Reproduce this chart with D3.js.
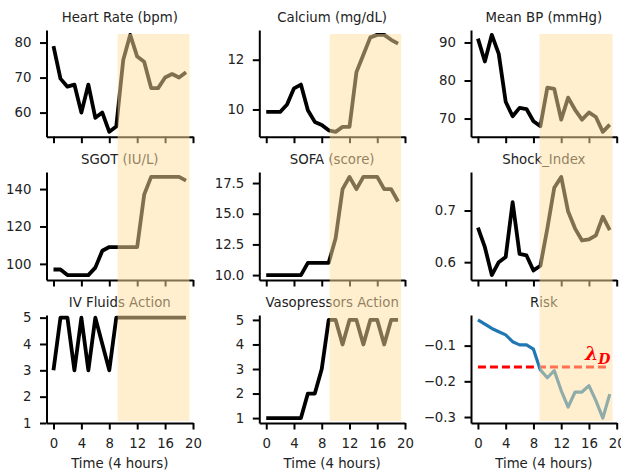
<!DOCTYPE html>
<html>
<head>
<meta charset="utf-8">
<script src="https://cdn.jsdelivr.net/npm/d3@7"></script>
<style>
  body { margin: 0; background: #fff; }
  svg text { font-family: "DejaVu Sans", sans-serif; fill: #222; }
</style>
</head>
<body>
<script>
// time steps (4 hour bins)
const time = [0, 1, 2, 3, 4, 5, 6, 7, 8, 9, 10, 11, 12, 13, 14, 15, 16, 17, 18, 19];
const xTicks = [0, 4, 8, 12, 16, 20];

const heartRate = [79, 69.7, 67.4, 68, 60, 68, 58.5, 60, 54.5, 56, 75, 82.2, 76, 74.5, 67, 67, 70, 71, 70, 71.5];
const calcium = [9.9, 9.9, 9.9, 10.2, 10.85, 11.0, 9.97, 9.5, 9.38, 9.16, 9.1, 9.3, 9.3, 11.5, 12.2, 12.9, 13.0, 13.0, 12.8, 12.65];
const meanBP = [91, 85, 92, 87, 74.4, 70.6, 72.8, 72.5, 69.3, 68, 78.1, 77.8, 69.7, 75.5, 72.3, 69.7, 71.6, 70.4, 66.5, 68.4];
const sgot = [97, 97, 94, 94, 94, 94, 98, 107, 109, 109, 109, 109, 109, 137, 146.5, 146.5, 146.5, 146.5, 146.5, 144.5];
const sofa = [10, 10, 10, 10, 10, 10, 11, 11, 11, 11, 13, 17, 18, 17, 18, 18, 18, 17, 17, 16];
const shockIndex = [0.667, 0.629, 0.575, 0.6, 0.61, 0.716, 0.616, 0.613, 0.584, 0.593, 0.665, 0.744, 0.765, 0.698, 0.665, 0.642, 0.644, 0.652, 0.688, 0.662];
const ivFluids = [3, 5, 5, 3, 5, 3, 5, 4, 3, 5, 5, 5, 5, 5, 5, 5, 5, 5, 5, 5];
const vasopressors = [1, 1, 1, 1, 1, 1, 2, 2, 3, 5, 5, 4, 5, 5, 4, 5, 5, 4, 5, 5];
const risk = [-0.028, -0.040, -0.052, -0.061, -0.070, -0.089, -0.098, -0.098, -0.110, -0.168,
              -0.190, -0.170, -0.226, -0.272, -0.230, -0.230, -0.212, -0.254, -0.303, -0.236];
const riskThreshold = -0.16;

// shaded region per column, in time units
const spanStart = [9.2, 9.15, 8.88];
const spanEnd = [19.5, 19.45, 19.4];

const titles = ["Heart Rate (bpm)", "Calcium (mg/dL)", "Mean BP (mmHg)",
                "SGOT (IU/L)", "SOFA (score)", "Shock_Index",
                "IV Fluids Action", "Vasopressors Action", "Risk"];
const series = [heartRate, calcium, meanBP, sgot, sofa, shockIndex, ivFluids, vasopressors, risk];
const yTicks = [[60, 70, 80], [10, 12], [70, 80, 90],
                [100, 120, 140], [10, 12.5, 15, 17.5], [0.6, 0.7],
                [1, 2, 3, 4, 5], [1, 2, 3, 4, 5], [-0.3, -0.2, -0.1]];
const yFormats = ["d", "d", "d", "d", ".1f", ".1f", "d", "d", ".1f"];

const w = 621;
const h = 475;
const colLeft = [46.5, 259.3, 471];
const colRight = [193, 405, 616.7];
const rowTop = [30, 172, 315];
const rowBottom = [136.7, 280, 423];

const svg = d3.select("body")
              .append("svg")
              .attr("width", w)
              .attr("height", h);

const xScales = colLeft.map((l, c) => d3.scaleLinear().domain([-1, 20]).range([l, colRight[c]]));

series.forEach((vals, i) => {
  const r = Math.floor(i / 3);
  const c = i % 3;
  const x = xScales[c];

  // matplotlib style 5% margins
  let lo = d3.min(vals), hi = d3.max(vals);
  const pad = (hi - lo) * 0.05;
  let domain = [lo - pad, hi + pad];
  if (i === 6) domain = [1, hi + pad];

  const y = d3.scaleLinear().domain(domain).range([rowBottom[r], rowTop[r]]);

  const g = svg.append("g");

  const yAxis = g.append("g")
     .attr("transform", `translate(${colLeft[c]},0)`)
     .call(d3.axisLeft(y).tickValues(yTicks[i]).tickFormat(d3.format(yFormats[i]))
             .tickSize(6.5).tickSizeOuter(0).tickPadding(8.5));

  const xAxis = g.append("g")
     .attr("transform", `translate(0,${rowBottom[r]})`)
     .call(d3.axisBottom(x).tickValues(xTicks)
             .tickSize(6.5).tickSizeOuter(0).tickPadding(9)
             .tickFormat(r === 2 ? d3.format("d") : ""));

  [yAxis, xAxis].forEach(a => {
    a.select(".domain").attr("stroke", "#000").attr("stroke-width", 2);
    a.selectAll(".tick line").attr("stroke", "#000").attr("stroke-width", 2);
    a.selectAll(".tick text").attr("font-size", 13.3).attr("fill", "#222")
     .attr("font-family", "DejaVu Sans");
  });

  g.append("text")
   .attr("x", (colLeft[c] + colRight[c]) / 2)
   .attr("y", rowTop[r] - 8.5)
   .attr("text-anchor", "middle")
   .attr("font-size", 13.3)
   .text(titles[i]);

  if (r === 2) {
    g.append("text")
     .attr("x", (colLeft[c] + colRight[c]) / 2)
     .attr("y", 468)
     .attr("text-anchor", "middle")
     .attr("font-size", 13.3)
     .text("Time (4 hours)");
  }

  const line = d3.line()
                 .x((d, k) => x(time[k]))
                 .y(d => y(d));

  if (i === 8) {
    g.append("line")
     .attr("x1", x(time[0]))
     .attr("x2", x(time[time.length - 1]))
     .attr("y1", y(riskThreshold))
     .attr("y2", y(riskThreshold))
     .attr("stroke", "#ff0000")
     .attr("stroke-width", 3)
     .attr("stroke-dasharray", "8,4");
  }

  g.append("path")
   .datum(vals)
   .attr("d", line)
   .attr("fill", "none")
   .attr("stroke", i === 8 ? "#1f77b4" : "#000")
   .attr("stroke-width", i === 8 ? 3.2 : 3.8)
   .attr("stroke-linejoin", "round");
});

// highlighted window, drawn over everything
spanStart.forEach((s, c) => {
  svg.append("rect")
     .attr("x", xScales[c](s))
     .attr("width", xScales[c](spanEnd[c]) - xScales[c](s))
     .attr("y", 34)
     .attr("height", 421 - 34)
     .attr("fill", "#ffe0a0")
     .attr("opacity", 0.5);
});

// threshold label
const lab = svg.append("text")
   .attr("x", 585)
   .attr("y", 360)
   .style("fill", "#ff0000")
   .style("font-family", "DejaVu Serif")
   .attr("font-weight", "bold")
   .attr("font-style", "italic")
   .attr("font-size", 19);
lab.append("tspan").text("λ");
lab.append("tspan").attr("font-size", 14).attr("dy", 3.5).text("D");
</script>
</body>
</html>
